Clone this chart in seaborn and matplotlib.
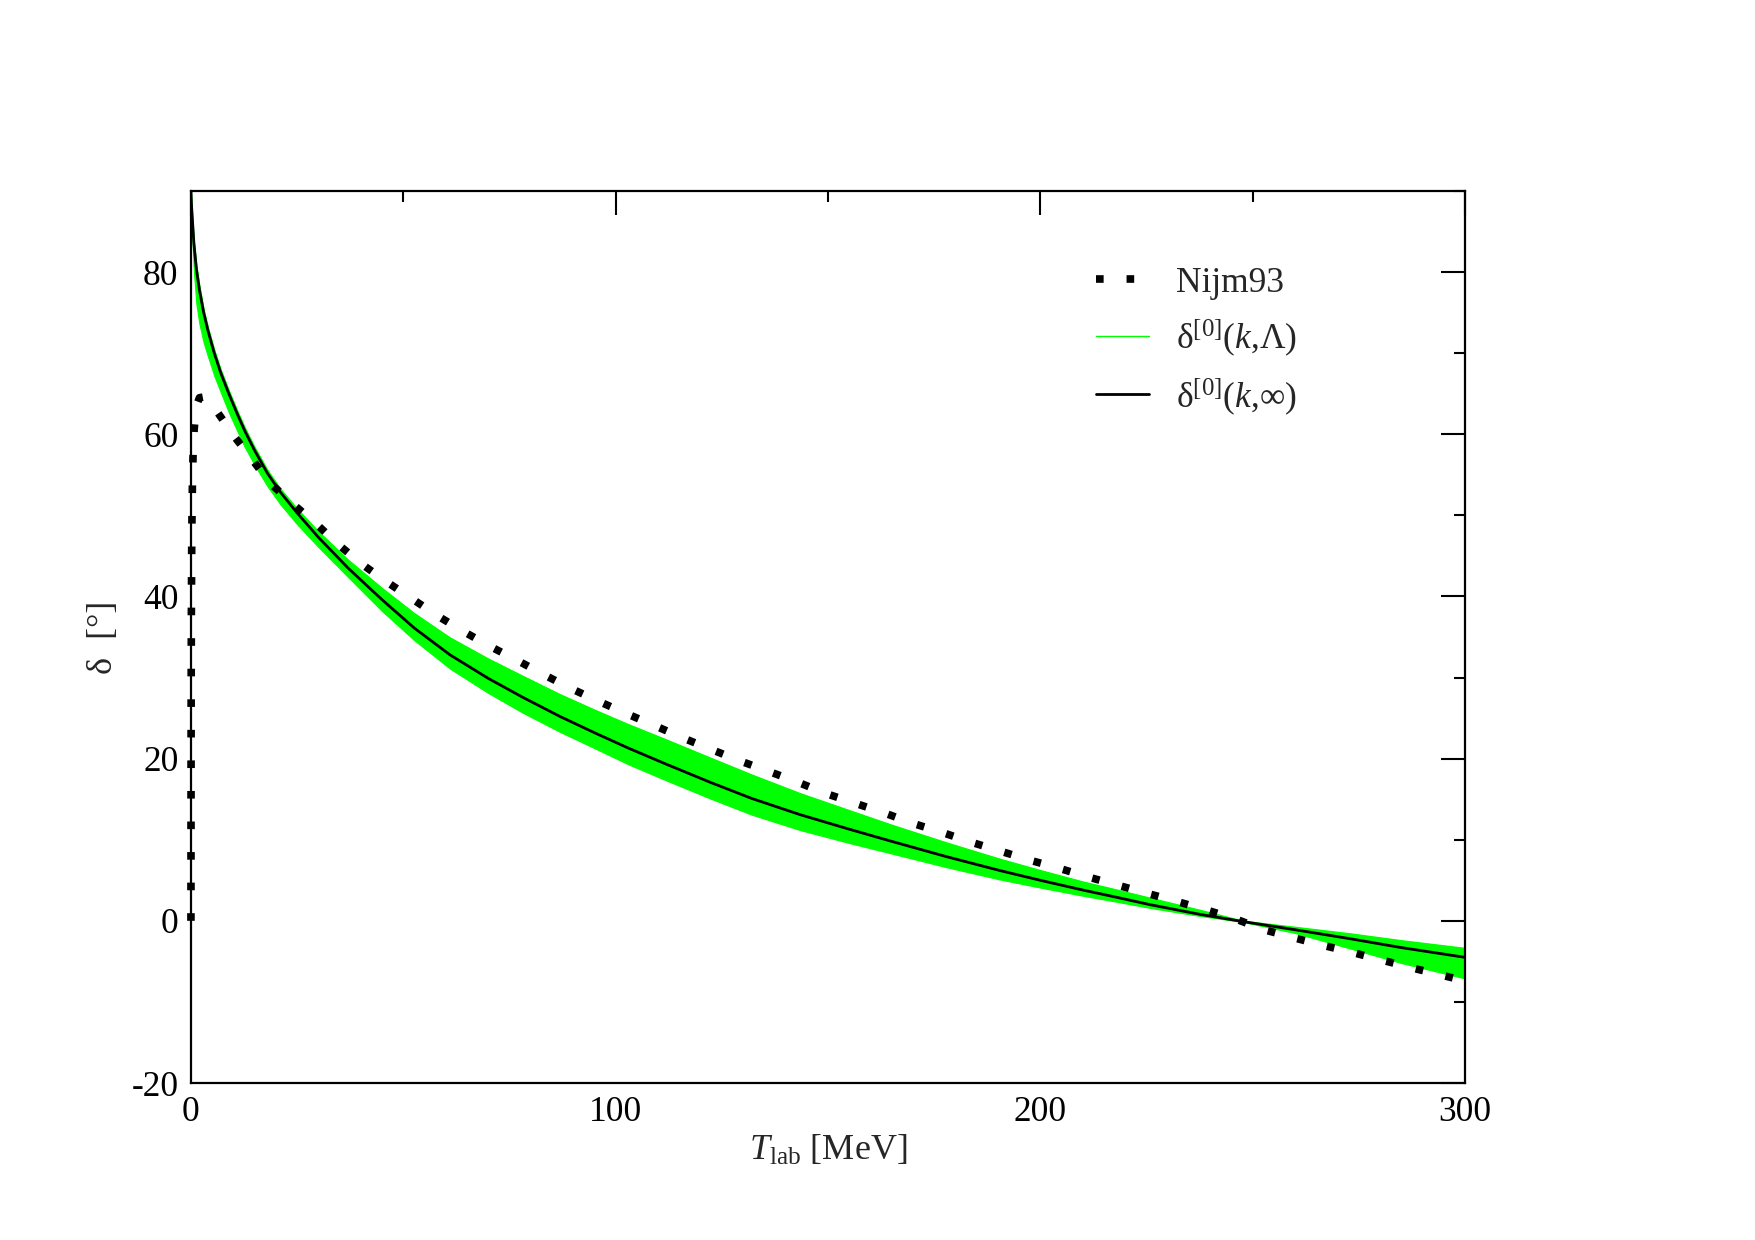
import numpy as np
import pandas as pd
import matplotlib.pyplot as plt
import seaborn as sns
from matplotlib.ticker import MultipleLocator

# Nijm93 phase shift
nijm_T = [0, 0.02, 0.05, 0.1, 0.2, 0.35, 0.5, 0.75, 1.0, 1.5, 2.0, 3.0, 4.0, 6.4, 10.4, 14.4,
          18.6, 24.0, 29.4, 34.7, 40.2, 46.1, 52.1, 58.1, 64.1, 70.6, 76.9, 83.3, 89.7, 96.3,
          102.8, 109.5, 116.1, 122.7, 129.4, 136.2, 142.9, 149.5, 156.4, 163.3, 170.1, 176.9,
          183.7, 190.6, 197.4, 204.3, 211.3, 218.2, 225.1, 232.1, 239.0, 245.9, 252.7, 259.5,
          266.4, 273.5, 280.5, 287.5, 294.5, 300]
nijm_d = [0, 15, 28, 38, 48, 54, 57.5, 60.5, 62.2, 63.8, 64.5, 64.6, 64.0, 62.6, 59.6, 56.9,
          54.0, 51.4, 49.0, 46.4, 44.0, 41.8, 39.7, 37.6, 35.7, 33.8, 32.1, 30.3, 28.6, 27.0,
          25.5, 24.0, 22.5, 21.1, 19.7, 18.4, 17.1, 15.7, 14.5, 13.3, 12.0, 10.9,
          9.7, 8.6, 7.5, 6.5, 5.4, 4.4, 3.4, 2.4, 1.36, 0.25, -1.1, -2.06,
          -3.0, -3.9, -4.85, -5.8, -6.7, -7.4]

# delta^[0](k, inf) and the band delta^[0](k, Lambda)
lo_T = [0, 0.1, 0.3, 0.7, 1.3, 2, 3, 4, 5.5, 7, 9, 11, 12.7, 15, 18, 21, 25, 30, 37, 45, 52.6,
        61, 70, 78, 86.9, 95, 103, 112, 122.2, 132, 143.4, 155, 165, 178, 190.5, 200, 210, 218,
        225.8, 237.6, 247.8, 260, 272.9, 285, 300]
lo_inf = [90, 88.5, 86.8, 83.5, 80.3, 77.8, 75.0, 72.8, 70.0, 67.6, 64.9, 62.4, 60.4, 58.0,
          55.2, 52.9, 50.3, 47.3, 43.5, 39.6, 36.1, 32.8, 29.9, 27.6, 25.2, 23.2, 21.3, 19.3,
          17.1, 15.1, 13.1, 11.3, 9.8, 7.9, 6.2, 5.0, 3.8, 2.9, 2.0, 0.8, -0.1, -1.1, -2.2,
          -3.3, -4.5]
band_hi = [90, 88.7, 87.1, 83.9, 80.8, 78.3, 75.4, 73.2, 70.4, 68.0, 65.3, 62.8, 60.8, 58.4,
           55.6, 53.3, 50.8, 48.0, 44.5, 41.0, 37.9, 34.9, 32.3, 30.2, 27.9, 26.0, 24.2, 22.3,
           20.1, 18.0, 15.7, 13.6, 11.8, 9.6, 7.6, 6.2, 4.8, 3.8, 2.8, 1.3, -0.05, -0.8, -1.6,
           -2.45, -3.4]
band_lo = [90, 87.3, 84.5, 80.0, 76.0, 73.6, 71.3, 69.6, 67.2, 65.2, 62.6, 60.3, 58.4, 56.2,
           53.6, 51.4, 48.9, 46.1, 42.4, 38.2, 34.6, 31.1, 28.1, 25.7, 23.3, 21.3, 19.3, 17.3,
           15.1, 13.1, 11.2, 9.6, 8.3, 6.6, 5.1, 4.1, 3.1, 2.35, 1.6, 0.6, -0.15, -1.5, -3.4,
           -5.2, -7.1]

nijm_df = pd.DataFrame({'T': nijm_T, 'delta': nijm_d})
lo_df = pd.DataFrame({'T': lo_T, 'inf': lo_inf, 'hi': band_hi, 'lo': band_lo})

sns.set_style('white')
plt.rcParams['font.family'] = ['Liberation Serif', 'DejaVu Serif']
plt.rcParams['mathtext.fontset'] = 'custom'
plt.rcParams['mathtext.rm'] = 'Liberation Serif'
plt.rcParams['mathtext.it'] = 'Liberation Serif:italic'
plt.rcParams['axes.unicode_minus'] = False

fig = plt.figure(figsize=(17.55, 12.4), dpi=100)
ax = fig.add_axes([0.1088, 0.1266, 0.7259, 0.7194])

green = '#00ff00'
ax.fill_between(lo_df['T'], lo_df['lo'], lo_df['hi'], color=green, linewidth=0.8, edgecolor=green)
sns.lineplot(data=lo_df, x='T', y='hi', color=green, lw=1.0, ax=ax, label=r'δ$^{[0]}$($k$,Λ)')
sns.lineplot(data=lo_df, x='T', y='inf', color='black', lw=2.0, ax=ax, label=r'δ$^{[0]}$($k$,∞)')
sns.lineplot(data=nijm_df, x='T', y='delta', color='black', lw=5.5, linestyle=(0, (1, 3)),
             ax=ax, label='Nijm93', clip_on=False, zorder=5)

ax.set_xlim(0, 300)
ax.set_ylim(-20, 90)
ax.xaxis.set_major_locator(MultipleLocator(100))
ax.xaxis.set_minor_locator(MultipleLocator(50))
ax.yaxis.set_major_locator(MultipleLocator(20))
ax.yaxis.set_minor_locator(MultipleLocator(10))
ax.tick_params(which='both', direction='in', top=True, right=True, width=1.5,
               labelsize=25.5, colors='black')
ax.tick_params(axis='x', pad=9)
ax.tick_params(axis='y', pad=9)
ax.tick_params(which='major', length=17)
ax.tick_params(which='minor', length=8)
for s in ax.spines.values():
    s.set_linewidth(1.6)
    s.set_color('black')

ax.set_xlabel(r'$T_{\rm lab}$ [MeV]', fontsize=26, labelpad=4)
ax.set_ylabel('δ  [°]', fontsize=26, labelpad=8)

handles, labels = ax.get_legend_handles_labels()
order = [2, 0, 1]
ax.legend([handles[i] for i in order], [labels[i] for i in order],
          loc='upper left', bbox_to_anchor=(0.6245, 0.785), bbox_transform=fig.transFigure,
          frameon=False, fontsize=25.5, handlelength=1.5, handletextpad=0.75,
          labelspacing=0.5, borderaxespad=0, borderpad=0)

fig.savefig('out.png', dpi=100)
